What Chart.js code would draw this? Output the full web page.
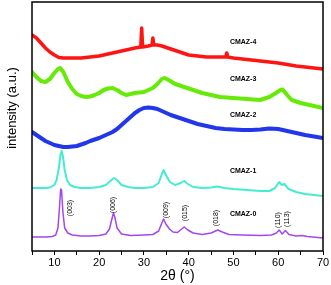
<!DOCTYPE html>
<html>
<head>
<meta charset="utf-8">
<script src="https://cdn.jsdelivr.net/npm/chart.js@4.4.1/dist/chart.umd.min.js"></script>
<style>
  html, body { margin: 0; padding: 0; background: #fff; }
  #wrap { width: 331px; height: 285px; }
</style>
</head>
<body>
<div id="wrap"><canvas id="xrd"></canvas></div>
<script>
// 2theta positions and intensities (a.u., offset stacked)
const th4 = [5,6,7,8,9,10,11,12,14,16,18,20,22,24,26,28,29.3,29.5,29.7,31,31.8,32,32.2,33,34,36,38,40,42,44,46,48.3,48.5,48.7,50,52,54,56,58,60,62,64,66,68,70];
const cmaz4 = [216,213,208,203,199,196,193.5,193,193,193,194,195,197,199,201,203,204,223,204,205,206,213,206,206,205,202,199,196,195,194,194,194,198,194,193,192,191,190,189,188,186.5,185,184,183,182];

const th3 = [5,6,7,8,9,10,10.8,11.3,12,13,14,15,16,17,18,19,20,21,22,23,24,25,26,28,30,31,32,33,34,34.6,35.5,37,39,41,43,45,47,50,53,56,58,59.5,60.5,61,62,63,65,67,70];
const cmaz3 = [179,174,170,169,172,178,182,183,179,169,162,157,155,154,154.5,156,158,161,162.5,163,161,158,156,158,159,161,163,167,172,173,171,167,164,161,158,156,154,153,152,151,154,158,161,161.5,156,151,148,146,143];

const th2 = [5,6,7,8,9,10,11,12,13,14,15,16,17,18,19,20,21,22,23,24,25,26,27,28,29,30,31,32,33,34,35,36,38,40,42,44,46,48,50,52,54,56,58,60,62,64,66,68,70];
const cmaz2 = [119,116,113,110,108,106,105,104,104,104.5,105,106.5,108,110,111.5,113,115,117,119,122,126,130,134,138,141,143,143.5,143,142,140,138,136,133,130,127,125,123,122,121.5,121,121,121.5,122.5,122,120,118,116,114.5,113];

const th1 = [5,8,9,10,10.5,11,11.4,11.6,11.9,12.3,12.8,13.5,14.5,16,18,20,21.5,22.5,23.3,24,25,26.5,28,30,32,33.3,34,34.4,34.9,35.8,37,38.2,39,39.8,41,43,45,46.4,48,50,53,56,58,59.3,60.2,60.8,61.4,62.3,64,66,68,70];
const cmaz1 = [63,63,63.5,66,71,83,97,100,95,81,71,66,64,63,63,64,66,70,73,71,66,64,63,63,64,68,77,81,76,69,66,68,70,67,64,63,63.5,64.5,63,62,61,60,60,63,69,66,67,62,59,57,56,55];

const th0 = [5,8,9.5,10.3,10.8,11.1,11.4,11.6,11.9,12.3,13,14,16,18,20,21.5,22.3,22.9,23.2,23.5,24,25,27,30,32,33.3,34,34.4,34.9,35.7,36.5,37.5,38.3,39,39.8,41,43,45,46.5,47.5,49,52,56,58.5,59.6,60.2,60.9,61.6,62.4,64,65.4,66.5,70];
const cmaz0 = [14,14,14.5,16,23,41,62,61,39,23,18,16,15,15,15.5,17,22,33,38,34,23,17,15.5,16,16.5,20,28,32,27,22,19,18.5,21.5,24,21,18,16.5,18,21,19,16.5,16,15.5,16,18,21,17,20.5,16.5,15,15.5,14.5,13];

const sampleNames = ['CMAZ-4','CMAZ-3','CMAZ-2','CMAZ-1','CMAZ-0'];
const sampleLabelY = [209,172,136,80,37];
const sampleLabelX = 49.2;

const hklText = ['(003)','(006)','(009)','(015)','(018)','(110)','(113)'];
const hklX = [13.4,23.2,34.9,39.1,46.05,59.9,61.9];
const hklY = [43,46,41,38,33,31,32];

const xTicks = [10,20,30,40,50,60,70];

function pts(xs, ys) {
    return xs.map((x, i) => ({x: x, y: ys[i]}));
}

// frame + text annotations
const decor = {
    id: 'decor',
    afterDatasetsDraw(chart) {
        const ctx = chart.ctx;
        const a = chart.chartArea;
        const xs = chart.scales.x, ys = chart.scales.y;
        ctx.save();
        ctx.strokeStyle = '#000';
        ctx.lineWidth = 1.5;
        ctx.strokeRect(a.left, a.top, a.right - a.left, a.bottom - a.top);

        ctx.fillStyle = '#000';
        ctx.font = 'bold 7px "Liberation Sans", Arial, sans-serif';
        ctx.textAlign = 'left';
        ctx.textBaseline = 'middle';
        sampleNames.forEach((n, i) => {
            ctx.fillText(n, xs.getPixelForValue(sampleLabelX), ys.getPixelForValue(sampleLabelY[i]));
        });

        ctx.font = '7px "Liberation Sans", Arial, sans-serif';
        ctx.textAlign = 'center';
        hklText.forEach((t, i) => {
            ctx.save();
            ctx.translate(xs.getPixelForValue(hklX[i]), ys.getPixelForValue(hklY[i]));
            ctx.rotate(-Math.PI / 2);
            ctx.fillText(t, 0, 0);
            ctx.restore();
        });

        // y axis title
        ctx.font = '13px "Liberation Sans", Arial, sans-serif';
        ctx.translate(12, 108);
        ctx.rotate(-Math.PI / 2);
        ctx.fillText('intensity (a.u.)', 0, 0);
        ctx.restore();
    }
};

const ctx = document.getElementById('xrd').getContext('2d');
new Chart(ctx, {
    type: 'line',
    data: {
        datasets: [
            {label: 'CMAZ-0', data: pts(th0, cmaz0), borderColor: '#a347f0', borderWidth: 1.5},
            {label: 'CMAZ-1', data: pts(th1, cmaz1), borderColor: '#45ecd0', borderWidth: 2},
            {label: 'CMAZ-2', data: pts(th2, cmaz2), borderColor: '#2236ec', borderWidth: 4},
            {label: 'CMAZ-3', data: pts(th3, cmaz3), borderColor: '#66ea08', borderWidth: 4},
            {label: 'CMAZ-4', data: pts(th4, cmaz4), borderColor: '#ff1414', borderWidth: 3.5}
        ]
    },
    options: {
        responsive: true,
        maintainAspectRatio: false,
        animation: false,
        layout: {padding: {left: 32, right: 8, top: 2, bottom: 0}},
        elements: {point: {radius: 0}, line: {tension: 0, borderJoinStyle: 'round', borderCapStyle: 'round'}},
        plugins: {legend: {display: false}, tooltip: {enabled: false}},
        scales: {
            x: {
                type: 'linear',
                min: 5,
                max: 70,
                afterFit: function (scale) { scale.height = 34; },
                border: {display: false},
                grid: {drawOnChartArea: false, drawTicks: true, tickLength: 4, tickColor: '#000', tickWidth: 1},
                ticks: {
                    stepSize: 5,
                    color: '#000',
                    padding: 1,
                    maxRotation: 0,
                    font: {family: '"Liberation Sans", Arial, sans-serif', size: 11},
                    callback: function (v) { return xTicks.includes(v) ? String(v) : ''; }
                },
                title: {
                    display: true,
                    text: '2θ (°)',
                    color: '#000',
                    padding: 0,
                    font: {family: '"Liberation Sans", Arial, sans-serif', size: 14}
                }
            },
            y: {
                display: false,
                min: 0,
                max: 249
            }
        }
    },
    plugins: [decor]
});
</script>
</body>
</html>
